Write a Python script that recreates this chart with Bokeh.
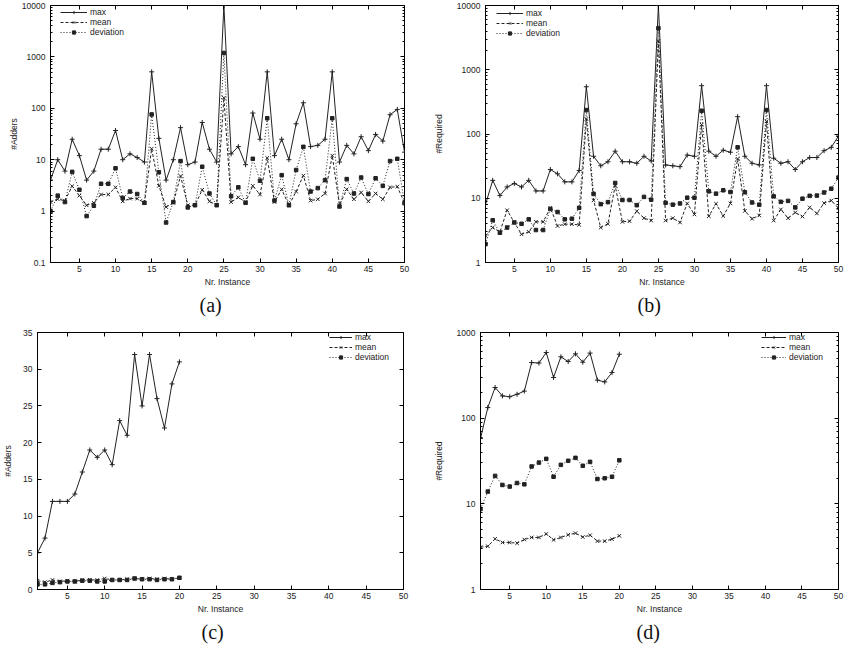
from bokeh.plotting import figure
from bokeh.layouts import column, row
from bokeh.models import Range1d, FixedTicker, LinearAxis, LogAxis, Legend, LegendItem
from bokeh.embed import file_html
from bokeh.resources import INLINE

# ---------------- data ----------------
inst_ab = list(range(1, 51))
inst_cd = list(range(1, 21))

a_max = [4, 10, 6, 25, 12, 4, 6, 16, 16, 37,
         10, 13, 11, 9, 512, 26, 4, 10, 42, 8,
         9, 53, 16, 9, 10000, 13, 18, 8, 81, 25,
         512, 12, 25, 10, 50, 128, 18, 19, 25, 512,
         9, 19, 13, 28, 15, 31, 23, 75, 95, 14]
a_mean = [1.5, 1.7, 1.6, 3.05, 2.0, 1.3, 1.45, 2.1, 2.1, 2.9,
          1.55, 1.75, 1.75, 1.45, 16.3, 3.1, 1.2, 1.45, 4.8, 1.3,
          1.3, 2.6, 1.55, 1.3, 160, 1.5, 1.85, 1.5, 3.1, 2.1,
          10.8, 1.5, 2.65, 1.3, 2.4, 4.9, 1.6, 1.7, 2.2, 12,
          1.3, 2.65, 1.7, 2.3, 1.55, 2.2, 1.7, 2.9, 3.0, 1.45]
a_dev = [1.0, 2.0, 1.5, 5.8, 2.6, 0.8, 1.27, 3.4, 3.4, 6.8,
         1.8, 2.4, 2.15, 1.45, 76, 5.7, 0.6, 1.5, 9.4, 1.18,
         1.3, 7.3, 2.2, 1.3, 1195, 1.95, 2.9, 1.45, 10.4, 3.9,
         64, 1.6, 5.0, 1.3, 6.3, 17.8, 2.4, 2.8, 4.0, 64,
         1.23, 4.2, 2.2, 4.5, 2.15, 4.35, 3.1, 9.4, 10.4, 1.43]

b_max = [8, 19, 11, 15, 17, 15, 19, 13, 13, 28,
         24, 18, 18, 27, 544, 45, 32, 37, 54, 37,
         37, 35, 45, 38, 10000, 33, 32, 31, 47, 45,
         565, 54, 45, 56, 52, 186, 45, 35, 33, 565,
         42, 35, 37, 28, 37, 43, 43, 55, 62, 93]
b_mean = [2.6, 3.5, 3.0, 6.5, 4.2, 2.75, 3.0, 4.3, 4.3, 7.1,
          3.7, 3.95, 3.95, 3.85, 171, 9.3, 3.5, 4.0, 15.7, 4.3,
          4.4, 6.3, 4.9, 4.5, 2800, 4.5, 4.9, 4.2, 8.3, 5.6,
          140, 5.25, 8.2, 5.3, 8.3, 41, 6.35, 4.8, 5.4, 157,
          4.5, 6.7, 4.9, 6.0, 5.2, 7.2, 5.8, 8.4, 9.2, 7.0]
b_dev = [1.93, 4.55, 2.9, 3.5, 4.2, 4.0, 4.7, 3.2, 3.2, 6.8,
         6.1, 4.7, 4.8, 7.1, 236, 11.7, 8.1, 8.7, 17.3, 9.4,
         9.4, 7.8, 10.5, 9.5, 4440, 8.5, 7.95, 8.3, 10.2, 10.2,
         230, 12.8, 11.8, 13.3, 12.5, 62, 12.4, 8.6, 7.95, 236,
         10.7, 8.8, 9.1, 7.2, 9.85, 10.9, 11.0, 12.3, 14.1, 21]

c_max = [5, 7, 12, 12, 12, 13, 16, 19, 18, 19,
         17, 23, 21, 32, 25, 32, 26, 22, 28, 31]
c_mean = [1.2, 1.0, 1.3, 1.1, 1.2, 1.1, 1.3, 1.3, 1.3, 1.5,
          1.3, 1.3, 1.4, 1.5, 1.4, 1.5, 1.4, 1.5, 1.4, 1.6]
c_dev = [0.7, 0.7, 0.9, 1.0, 1.1, 1.1, 1.2, 1.2, 1.1, 1.1,
         1.3, 1.3, 1.3, 1.5, 1.4, 1.4, 1.3, 1.4, 1.4, 1.6]

d_max = [58, 133, 228, 182, 178, 190, 207, 446, 440, 584,
         298, 520, 458, 564, 450, 575, 278, 265, 341, 558]
d_mean = [3.12, 3.2, 3.9, 3.54, 3.54, 3.47, 3.83, 4.05, 4.05, 4.45,
          3.8, 4.05, 4.35, 4.55, 4.1, 4.3, 3.67, 3.67, 3.87, 4.23]
d_dev = [8.7, 13.9, 21.2, 16.6, 15.9, 17.5, 16.9, 27.3, 30.3, 33.5,
         20.7, 28.5, 31.8, 34.4, 27.8, 30.9, 19.5, 19.9, 20.7, 32.2]

series_names = ["max", "mean", "deviation"]
x_ticks = [5, 10, 15, 20, 25, 30, 35, 40, 45, 50]
x_labels = ["5", "10", "15", "20", "25", "30", "35", "40", "45", "50"]
ya_ticks = [0.1, 1, 10, 100, 1000, 10000]
ya_labels = ["0.1", "1", "10", "100", "1000", "10000"]
yb_ticks = [1, 10, 100, 1000, 10000]
yb_labels = ["1", "10", "100", "1000", "10000"]
yc_ticks = [0, 5, 10, 15, 20, 25, 30, 35]
yc_labels = ["0", "5", "10", "15", "20", "25", "30", "35"]
yd_ticks = [1, 10, 100, 1000]
yd_labels = ["1", "10", "100", "1000"]

FONT = "Liberation Sans"
FS = "8.5px"


def mirror_axis(cls, ticker, ticks, minor_in):
    return cls(ticker=ticker, major_label_overrides={t: "" for t in ticks},
               major_label_text_font_size="1px", major_label_standoff=0,
               major_tick_in=4, major_tick_out=0, minor_tick_in=minor_in, minor_tick_out=0,
               axis_line_color=None, major_tick_line_color="black",
               minor_tick_line_color="black")


def make_panel(tag, ylabel, xs, ys, log, yticks, ylabels, width, height,
               bl, br, bt, bb, ylab_standoff, title_offset, legend_loc, glyph_w):
    p = figure(width=width, height=height, output_backend="svg", toolbar_location=None,
               x_range=Range1d(1, 50), y_range=Range1d(yticks[0], yticks[-1]),
               y_axis_type="log" if log else "linear",
               min_border_left=bl, min_border_right=br, min_border_top=bt, min_border_bottom=bb,
               title=tag, title_location="below")
    p.background_fill_color = "white"
    p.border_fill_color = "white"
    p.outline_line_color = "black"
    p.outline_line_width = 1
    p.xgrid.grid_line_color = None
    p.ygrid.grid_line_color = None

    p.title.text_font = "Liberation Serif"
    p.title.text_font_size = "20px"
    p.title.text_font_style = "normal"
    p.title.text_color = "#111111"
    p.title.align = "left"
    p.title.offset = title_offset
    p.title.standoff = 4

    if log:
        minor = [m * t for t in yticks[:-1] for m in range(2, 10)]
    else:
        minor = []
    yt = FixedTicker(ticks=yticks, minor_ticks=minor)
    xt = FixedTicker(ticks=x_ticks, minor_ticks=[])

    xa = p.xaxis[0]
    ya = p.yaxis[0]
    xa.ticker = xt
    ya.ticker = yt
    xa.major_label_overrides = {t: l for t, l in zip(x_ticks, x_labels)}
    ya.major_label_overrides = {t: l for t, l in zip(yticks, ylabels)}
    xa.axis_label = "Nr. Instance"
    ya.axis_label = ylabel
    for ax in (xa, ya):
        ax.axis_label_text_font = FONT
        ax.axis_label_text_font_size = FS
        ax.axis_label_text_font_style = "normal"
        ax.axis_label_text_color = "#222222"
        ax.major_label_text_font = FONT
        ax.major_label_text_font_size = FS
        ax.major_label_text_color = "#222222"
        ax.major_tick_in = 4
        ax.major_tick_out = 0
        ax.minor_tick_in = 2
        ax.minor_tick_out = 0
        ax.axis_line_color = "black"
        ax.major_tick_line_color = "black"
        ax.minor_tick_line_color = "black"
    xa.major_label_standoff = 3
    xa.axis_label_standoff = 2
    ya.major_label_standoff = 5
    ya.axis_label_standoff = ylab_standoff

    # mirrored ticks on the top and right edges
    p.add_layout(mirror_axis(LinearAxis, xt, x_ticks, 0), "above")
    p.add_layout(mirror_axis(LogAxis if log else LinearAxis, yt, yticks, 2), "right")

    styles = [
        dict(dash="solid", marker="cross", size=5, lw=1.0),
        dict(dash="3 2", marker="x", size=5, lw=1.0),
        dict(dash="1 2", marker="square", size=3.5, lw=1.0),
    ]
    items = []
    for name, y, st in zip(series_names, ys, styles):
        ln = p.line(xs, y, line_color="#222222", line_width=st["lw"], line_dash=st["dash"])
        sc = p.scatter(xs, y, marker=st["marker"], size=st["size"], line_color="#222222",
                       fill_color="#222222", line_width=1)
        items.append(LegendItem(label=name, renderers=[ln, sc]))
    leg = Legend(items=items, location=legend_loc, border_line_color=None,
                 background_fill_alpha=0, padding=0, margin=0, spacing=-3,
                 label_height=8, glyph_height=8, glyph_width=glyph_w, label_standoff=3,
                 label_text_font=FONT, label_text_font_size=FS, label_text_color="#222222")
    p.add_layout(leg)
    return p


pa = make_panel("(a)", "#Adders", inst_ab, [a_max, a_mean, a_dev], True, ya_ticks, ya_labels,
                420, 323, 50, 16, 5, 61, 0, 149, (10, 225), 27)
pb = make_panel("(b)", "#Required", inst_ab, [b_max, b_mean, b_dev], True, yb_ticks, yb_labels,
                425, 323, 65, 7, 5, 61, 10, 152, (11, 224), 27)
pc = make_panel("(c)", "#Adders", inst_cd, [c_max, c_mean, c_dev], False, yc_ticks, yc_labels,
                420, 324, 35, 17, 9, 57, 7, 164, (292, 227), 23)
pd_ = make_panel("(d)", "#Required", inst_cd, [d_max, d_mean, d_dev], True, yd_ticks, yd_labels,
                 425, 324, 60, 7, 9, 58, 10, 156, (281, 227), 25)

layout = column(row(pa, pb), row(pc, pd_))
open("out.html", "w").write(file_html(layout, INLINE))
